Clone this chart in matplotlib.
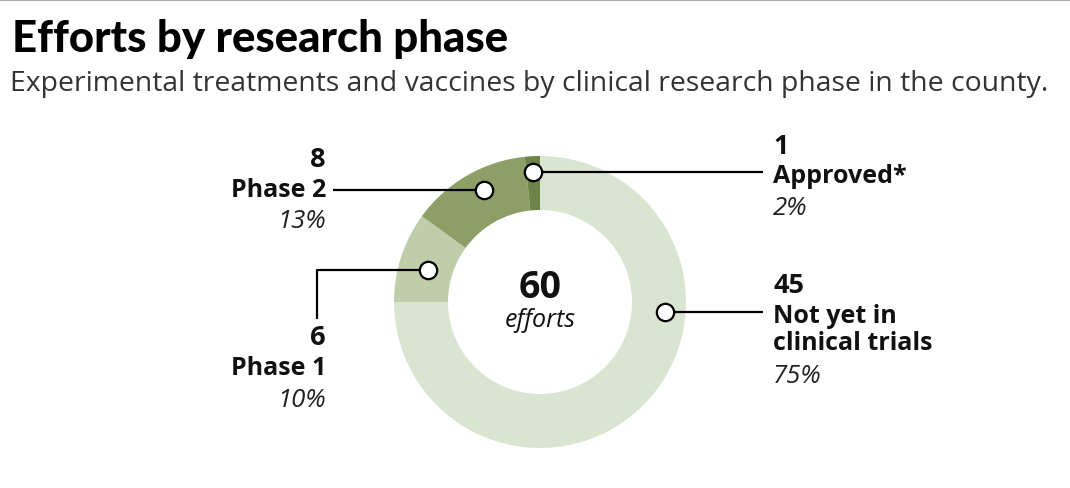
import numpy as np
import matplotlib
matplotlib.use("Agg")
import matplotlib.pyplot as plt

W, H = 1070, 489

labels = ["Not yet in\nclinical trials", "Phase 1", "Phase 2", "Approved*"]
counts = [45, 6, 8, 1]
pcts = ["75%", "10%", "13%", "2%"]
colors = ["#dae5d1", "#bfcdaa", "#8d9f66", "#6d8347"]
total = 60

# layout (pixels, y from top)
cx, cy = 540, 303
R, ring = 146, 54
anchor_frac = [0.65, 0.56, 0.43, 0.5]   # where the dot sits inside each slice (from theta1)
anchor_r = [125, 116, 125, 130]

plt.rcParams['font.family'] = ['Open Sans', 'DejaVu Sans']

fig = plt.figure(figsize=(W / 100, H / 100), dpi=100)
ax = fig.add_axes([0, 0, 1, 1])

def Y(py):
    return H - py

wedges, _ = ax.pie(counts, colors=colors, startangle=90, counterclock=False,
                   center=(cx, Y(cy)), radius=R, frame=True,
                   wedgeprops=dict(width=ring, linewidth=0))
ax.set_xlim(0, W)
ax.set_ylim(0, H)
ax.set_aspect("equal")
ax.axis("off")

# dot positions from wedge angles
dots = []
for w, f, r in zip(wedges, anchor_frac, anchor_r):
    a = np.deg2rad(w.theta1 + (w.theta2 - w.theta1) * f)
    dots.append((cx + r * np.cos(a), Y(cy) + r * np.sin(a)))

lk = dict(color="black", lw=1.6, solid_capstyle="butt", zorder=3)
ax.plot([dots[0][0], 763], [dots[0][1], dots[0][1]], **lk)
ax.plot([dots[1][0], 317, 317], [dots[1][1], dots[1][1], Y(320)], **lk)
ax.plot([333, dots[2][0]], [dots[2][1], dots[2][1]], **lk)
ax.plot([dots[3][0], 763], [dots[3][1], dots[3][1]], **lk)

for x, y in dots:
    ax.plot(x, y, "o", ms=12.5, mfc="white", mec="black", mew=1.6, zorder=4)

# center text
ax.text(cx, Y(298), str(total), ha="center", va="baseline", fontsize=27,
        fontweight="bold", color="#111111")
ax.text(cx, Y(327), "efforts", ha="center", va="baseline", fontsize=18,
        style="italic", color="#111111")

num_kw = dict(fontsize=19.5, fontweight="bold", color="#111111", va="baseline")
lab_kw = dict(fontsize=18, fontweight="bold", color="#111111", va="baseline")
pct_kw = dict(fontsize=18.5, style="italic", color="#222222", va="baseline")

# left side
ax.text(326, Y(167), str(counts[2]), ha="right", **num_kw)
ax.text(326, Y(197), labels[2], ha="right", **lab_kw)
ax.text(326, Y(228), pcts[2], ha="right", **pct_kw)
ax.text(326, Y(345), str(counts[1]), ha="right", **num_kw)
ax.text(326, Y(375), labels[1], ha="right", **lab_kw)
ax.text(326, Y(407), pcts[1], ha="right", **pct_kw)

# right side
ax.text(773, Y(154), str(counts[3]), ha="left", **num_kw)
ax.text(773, Y(183), labels[3], ha="left", **lab_kw)
ax.text(773, Y(215), pcts[3], ha="left", **pct_kw)
ax.text(773, Y(293), str(counts[0]), ha="left", **num_kw)
ax.text(773, Y(350), labels[0], ha="left", linespacing=1.12, **lab_kw)
ax.text(773, Y(383), pcts[0], ha="left", **pct_kw)

# header
ax.plot([0, W], [Y(1), Y(1)], color="#aaaaaa", lw=1.5)
title = ax.text(12, Y(52), "Efforts by research phase", ha="left", va="baseline",
                fontsize=31, fontweight="black", color="black", family=["Lato", "DejaVu Sans"])
sub = ax.text(10, Y(91), "Experimental treatments and vaccines by clinical research phase in the county.",
              ha="left", va="baseline", fontsize=17, color="#333333")

# stretch header text sizes to the widths seen in the reference
fig.canvas.draw()
r = fig.canvas.get_renderer()
for t, target in [(title, 496), (sub, 1040)]:
    wd = t.get_window_extent(r).width
    t.set_fontsize(t.get_fontsize() * target / wd)

fig.savefig("out.png", dpi=100)
